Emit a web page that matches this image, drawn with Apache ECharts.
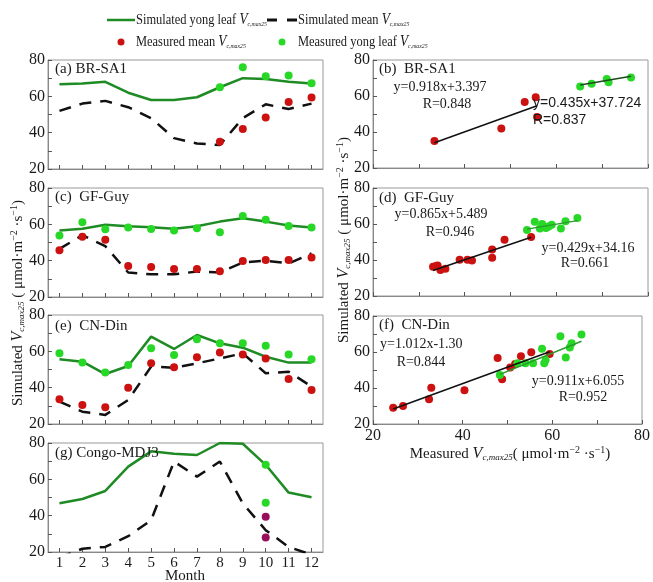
<!DOCTYPE html>
<html>
<head>
<meta charset="utf-8">
<script src="https://cdn.jsdelivr.net/npm/echarts@6/dist/echarts.min.js"></script>
<style>
html, body { margin: 0; padding: 0; background: #fff; }
#chart { width: 653px; height: 582px; }
</style>
</head>
<body>
<div id="chart"></div>
<script>
// ---- Seasonal panels (months 1-12) ----
const months = ['1', '2', '3', '4', '5', '6', '7', '8', '9', '10', '11', '12'];
const yTicks = [20, 40, 60, 80];
const xTicksScatter = [20, 40, 60, 80];

// (a) BR-SA1
const saYoungSim = [66.6, 67, 68, 62, 58, 58, 59.5, 65, 70, 69.5, 68, 67];
const saMeanSim = [52, 56, 57.5, 54, 48, 37, 34, 33.2, 48, 55.6, 53, 56];
const saMeanObs = [null, null, null, null, null, null, null, 35, 42, 48.4, 56.9, 59.3];
const saYoungObs = [null, null, null, null, null, null, null, 65, 76, 71, 71.4, 67.2];

// (c) GF-Guy
const gyYoungSim = [56.6, 57.6, 59.8, 58.9, 58.4, 57.6, 58.9, 61.5, 63.4, 61.5, 59.3, 58.2];
const gyMeanSim = [46.5, 54, 48, 33.5, 32.5, 32.5, 34, 33.5, 39, 40, 38.5, 44];
const gyMeanObs = [45.8, 53.2, 51.5, 37, 36.5, 35.4, 35.4, 34.2, 39.8, 40.4, 40.4, 41.7];
const gyYoungObs = [53.8, 61.2, 57.3, 58.2, 57.5, 56.6, 57.8, 55.6, 64.6, 62.5, 59.1, 58.2];

// (e) CN-Din
const cdYoungSim = [55.6, 54.3, 47.5, 51.9, 68.1, 61.3, 69, 64.4, 62, 57, 53.8, 53.8];
const cdMeanSim = [32.3, 26.8, 25, 33.2, 51.6, 51, 53.4, 56.1, 58.9, 47.9, 48.8, 40.6];
const cdMeanObs = [33.6, 30.5, 29.2, 40, 53.4, 51.2, 56.7, 59.3, 58.3, 56.1, 44.8, 38.7];
const cdYoungObs = [58.9, 53.9, 48.3, 52.5, 61.7, 58, 66.6, 64.4, 64.4, 63.1, 58.3, 55.6];

// (g) Congo-MDJ3 (only October was measured, two values per group)
const cgYoungSim = [46.8, 49.2, 53.6, 67, 75.4, 74.1, 73.4, 80, 79.6, 68, 52.7, 50.1];
const cgMeanSim = [17, 21.8, 22.8, 28.7, 37.5, 69.8, 61.5, 69.8, 46.8, 32, 22.8, 18.5];
const cgMonthObs = '10';
const cgYoungObs = [68, 47.1];
const cgMeanObs = [39.4, 28];

// ---- Measured vs simulated panels ([measured, simulated]) ----
const bMean = [[33.4, 35], [48, 42], [53.1, 56.7], [55.5, 59.3], [55.8, 48.4]];
const bYoung = [[65.2, 65.3], [67.7, 66.8], [71, 69.4], [71.4, 67.7], [76.3, 70.3]];
const dMean = [[33.1, 36.3], [33.6, 36.5], [34.1, 37], [34.7, 34.5], [35.8, 35.2], [38.9, 40.2],
  [40.6, 40.2], [41.6, 39.7], [46, 45.8], [46, 41.2], [48.7, 51.3], [54.5, 52.8]];
const dYoung = [[53.6, 56.6], [55.3, 61.2], [56.4, 57.5], [56.9, 60], [57.2, 58.6], [57.7, 57.8],
  [58, 58.2], [58.4, 58.7], [59, 59.6], [61, 57.5], [62, 61.5], [64.6, 63.4]];
const fMean = [[24.5, 29], [26.7, 30], [32.5, 33.7], [33, 40.1], [40.4, 38.8], [47.8, 56.6],
  [48.8, 44.8], [50.6, 51.4], [51.7, 53.3], [53, 57.6], [55.3, 59.9], [59.4, 58.9]];
const fYoung = [[48.3, 47.2], [52.2, 53.8], [54, 53.8], [55.7, 53.8], [57.7, 61.8], [58.2, 53.8],
  [58.5, 55.6], [61.8, 68.8], [63, 57], [63.9, 62.5], [64.3, 64.9], [66.5, 69.7]];

// Fitted lines: [slope, intercept]
const bMeanFit = [0.918, 3.397];
const bYoungFit = [0.435, 37.724];
const dMeanFit = [0.865, 5.489];
const dYoungFit = [0.429, 34.16];
const fMeanFit = [0.911, 6.055];
const fYoungFit = [1.012, -1.30];

const SERIF = '"Liberation Serif", "Times New Roman", serif';
const SANS = '"Liberation Sans", Arial, sans-serif';
const GREEN_LINE = '#1f8b24';
const GREEN_DOT = '#27d827';
const RED_DOT = '#cc1111';
const PURPLE_DOT = '#9a0f5c';
const TXT = '#1a1a1a';

const leftTops = [60, 188, 315, 443];
const rightTops = [60, 188, 316];
const grids = [];
leftTops.forEach(t => grids.push({ left: 48, width: 275, top: t, height: 109, show: true, borderColor: '#999', borderWidth: 1 }));
rightTops.forEach(t => grids.push({ left: 373, width: 275, top: t, height: 108, show: true, borderColor: '#999', borderWidth: 1 }));

const tickStyle = { show: true, inside: true, length: 4, lineStyle: { color: '#555', width: 1 } };
const axisLineStyle = { show: true, lineStyle: { color: '#888', width: 1 } };
const labelFont = { fontFamily: SERIF, fontSize: 16, color: TXT };

const xAxes = [];
const yAxes = [];
for (let i = 0; i < 4; i++) {
  xAxes.push({
    type: 'category', gridIndex: i, data: months, boundaryGap: true,
    axisTick: Object.assign({ alignWithLabel: true }, tickStyle),
    axisLine: axisLineStyle,
    axisLabel: Object.assign({ show: i === 3, margin: 4 }, labelFont, { fontSize: 15 }),
    splitLine: { show: false }
  });
  yAxes.push({
    type: 'value', gridIndex: i, min: 20, max: 80, interval: 10,
    axisTick: tickStyle, axisLine: axisLineStyle,
    axisLabel: Object.assign({ margin: 3, formatter: v => (yTicks.includes(v) ? String(v) : '') }, labelFont),
    splitLine: { show: false }
  });
}
for (let j = 0; j < 3; j++) {
  const gi = 4 + j;
  xAxes.push({
    type: 'value', gridIndex: gi, min: 20, max: 80, interval: 10,
    axisTick: tickStyle, axisLine: axisLineStyle,
    axisLabel: Object.assign({ show: j === 2, margin: 4, formatter: v => (xTicksScatter.includes(v) ? String(v) : '') }, labelFont),
    splitLine: { show: false }
  });
  yAxes.push({
    type: 'value', gridIndex: gi, min: 20, max: 80, interval: 10,
    axisTick: tickStyle, axisLine: axisLineStyle,
    axisLabel: Object.assign({ margin: 3, formatter: v => (yTicks.includes(v) ? String(v) : '') }, labelFont),
    splitLine: { show: false }
  });
}

function pairs(values) {
  const out = [];
  values.forEach((v, k) => { if (v !== null) out.push([months[k], v]); });
  return out;
}
function simLine(idx, data, dashed) {
  return {
    type: 'line', xAxisIndex: idx, yAxisIndex: idx, data: data, symbol: 'none', silent: true,
    lineStyle: dashed ? { color: '#111', width: 2.5, type: [12, 9] } : { color: GREEN_LINE, width: 2.5 },
    z: 2
  };
}
function dots(idx, data, color) {
  return {
    type: 'scatter', xAxisIndex: idx, yAxisIndex: idx, data: data, symbolSize: 8,
    itemStyle: { color: color, opacity: 1 }, z: 3, silent: true
  };
}
function fitLine(idx, pts, fit, color) {
  const xs = pts.map(p => p[0]);
  const x0 = Math.min.apply(null, xs), x1 = Math.max.apply(null, xs);
  return {
    type: 'line', xAxisIndex: idx, yAxisIndex: idx, symbol: 'none', silent: true,
    data: [[x0, fit[0] * x0 + fit[1]], [x1, fit[0] * x1 + fit[1]]],
    lineStyle: { color: color, width: 1.5 }, z: 4
  };
}

const series = [
  simLine(0, saYoungSim, false), simLine(0, saMeanSim, true),
  dots(0, pairs(saMeanObs), RED_DOT), dots(0, pairs(saYoungObs), GREEN_DOT),
  simLine(1, gyYoungSim, false), simLine(1, gyMeanSim, true),
  dots(1, pairs(gyMeanObs), RED_DOT), dots(1, pairs(gyYoungObs), GREEN_DOT),
  simLine(2, cdYoungSim, false), simLine(2, cdMeanSim, true),
  dots(2, pairs(cdMeanObs), RED_DOT), dots(2, pairs(cdYoungObs), GREEN_DOT),
  simLine(3, cgYoungSim, false), simLine(3, cgMeanSim, true),
  dots(3, cgYoungObs.map(v => [cgMonthObs, v]), GREEN_DOT),
  dots(3, cgMeanObs.map(v => [cgMonthObs, v]), PURPLE_DOT),

  dots(4, bMean, RED_DOT), dots(4, bYoung, GREEN_DOT),
  fitLine(4, bMean, bMeanFit, '#111'), fitLine(4, bYoung, bYoungFit, '#1d4a1d'),
  dots(5, dMean, RED_DOT), dots(5, dYoung, GREEN_DOT),
  fitLine(5, dMean, dMeanFit, '#111'), fitLine(5, dYoung, dYoungFit, '#2a9a2a'),
  dots(6, fMean, RED_DOT), dots(6, fYoung, GREEN_DOT),
  fitLine(6, fMean, fMeanFit, '#111'), fitLine(6, fYoung, fYoungFit, '#2a9a2a')
];

// ---- Text overlays ----
const legendRich = {
  n: { fontFamily: SERIF, fontSize: 15, color: TXT },
  v: { fontFamily: SERIF, fontSize: 16, fontStyle: 'italic', color: TXT },
  s: { fontFamily: SERIF, fontSize: 7, fontStyle: 'italic', color: TXT, verticalAlign: 'bottom', padding: [8, 0, 0, 0] }
};
const titleRich = {
  n: { fontFamily: SERIF, fontSize: 15, color: TXT },
  v: { fontFamily: SERIF, fontSize: 16, fontStyle: 'italic', color: TXT },
  s: { fontFamily: SERIF, fontSize: 9, fontStyle: 'italic', color: TXT, verticalAlign: 'bottom', padding: [8, 0, 0, 0] },
  p: { fontFamily: SERIF, fontSize: 10, color: TXT, verticalAlign: 'top', padding: [0, 0, 6, 0] }
};
function txt(x, y, text, opts) {
  const o = opts || {};
  return {
    type: 'text', x: x, y: y, rotation: o.rotation || 0, scaleX: o.scaleX || 1, z: 10, silent: true,
    style: {
      text: text, rich: o.rich, fill: o.color || TXT,
      font: o.font || ('15px ' + SERIF),
      align: o.align || 'left', verticalAlign: o.valign || 'middle'
    }
  };
}
const EQ = '14px ' + SERIF;
const LEG = { rich: legendRich, scaleX: 0.83 };
const unitRich = '{n|Simulated }{v|V}{s|c,max25}{n| ( μmol·m}{p|−2}{n| ·s}{p|−1}{n|)}';
const graphics = [
  // legend
  { type: 'line', shape: { x1: 107, y1: 20, x2: 135, y2: 20 }, style: { stroke: GREEN_LINE, lineWidth: 2.5 }, z: 10 },
  txt(136, 20, '{n|Simulated yong leaf }{v|V}{s|c,max25}', LEG),
  { type: 'line', shape: { x1: 267, y1: 20, x2: 277, y2: 20 }, style: { stroke: '#111', lineWidth: 3 }, z: 10 },
  { type: 'line', shape: { x1: 287, y1: 20, x2: 297, y2: 20 }, style: { stroke: '#111', lineWidth: 3 }, z: 10 },
  txt(298, 20, '{n|Simulated mean }{v|V}{s|c,max25}', LEG),
  { type: 'circle', shape: { cx: 121, cy: 42, r: 3.5 }, style: { fill: RED_DOT }, z: 10 },
  txt(136, 42, '{n|Measured mean }{v|V}{s|c,max25}', LEG),
  { type: 'circle', shape: { cx: 282, cy: 42, r: 3.5 }, style: { fill: GREEN_DOT }, z: 10 },
  txt(298, 42, '{n|Measured yong leaf }{v|V}{s|c,max25}', LEG),

  // panel labels
  txt(55, 69, '(a) BR-SA1'),
  txt(55, 197, '(c)  GF-Guy'),
  txt(55, 326, '(e)  CN-Din'),
  txt(55, 453, '(g) Congo-MDJ3'),
  txt(379, 69, '(b)  BR-SA1'),
  txt(379, 198, '(d)  GF-Guy'),
  txt(379, 325, '(f)  CN-Din'),

  // fit annotations
  txt(440, 87, 'y=0.918x+3.397', { align: 'center', font: EQ }),
  txt(447, 104, 'R=0.848', { align: 'center', font: EQ }),
  txt(533, 103, 'y=0.435x+37.724', { font: '14px ' + SANS }),
  txt(533, 120, 'R=0.837', { font: '14px ' + SANS }),
  txt(441, 214, 'y=0.865x+5.489', { align: 'center', font: EQ }),
  txt(450, 232, 'R=0.946', { align: 'center', font: EQ }),
  txt(588, 248, 'y=0.429x+34.16', { align: 'center', font: EQ }),
  txt(585, 263, 'R=0.661', { align: 'center', font: EQ }),
  txt(380, 344, 'y=1.012x-1.30', { font: EQ }),
  txt(421, 362, 'R=0.844', { align: 'center', font: EQ }),
  txt(578, 381, 'y=0.911x+6.055', { align: 'center', font: EQ }),
  txt(583, 397, 'R=0.952', { align: 'center', font: EQ }),

  // axis titles
  txt(18, 303, unitRich, { rich: titleRich, rotation: Math.PI / 2, align: 'center' }),
  txt(344, 240, unitRich, { rich: titleRich, rotation: Math.PI / 2, align: 'center' }),
  txt(510, 454, '{n|Measured }{v|V}{s|c,max25}{n|( μmol·m}{p|−2}{n| ·s}{p|−1}{n|)}', { rich: titleRich, align: 'center' }),
  txt(185, 576, 'Month', { align: 'center' })
];

const chart = echarts.init(document.getElementById('chart'), null, { renderer: 'canvas' });
chart.setOption({
  animation: false,
  backgroundColor: '#fff',
  grid: grids,
  xAxis: xAxes,
  yAxis: yAxes,
  series: series,
  graphic: graphics
});
</script>
</body>
</html>
